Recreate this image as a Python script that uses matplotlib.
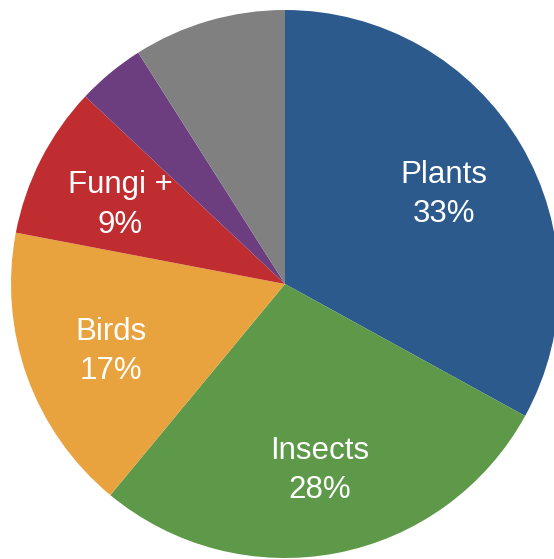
import numpy as np
import matplotlib
matplotlib.use("Agg")
import matplotlib.pyplot as plt

# Datos del gráfico
categorias = ["Plants", "Insects", "Birds", "Fungi +", "", ""]
valores = [33, 28, 17, 9, 4, 9]
colores = ["#2D5A8C", "#5E994A", "#E8A33E", "#BF2D30", "#6C3E80", "#7F807F"]

fig = plt.figure(figsize=(5.54, 5.59), dpi=100)
ax = fig.add_axes([0, 0, 1, 1])

wedges, _ = ax.pie(valores, colors=colores, startangle=90, counterclock=False,
                   radius=1, center=(0, 0), wedgeprops=dict(linewidth=0))

# Etiquetas dentro de cada sector
for w, nombre, v in zip(wedges, categorias, valores):
    if not nombre:
        continue
    ang = np.deg2rad((w.theta1 + w.theta2) / 2)
    r = 0.675
    ax.text(r * np.cos(ang), r * np.sin(ang) - 0.018, f"{nombre}\n{v}%",
            ha="center", va="center", color="white", fontsize=22.5,
            family="Liberation Sans", linespacing=1.4)

# Escala: 274 px por unidad, centro en (285, 284)
ax.set_xlim(-285 / 274, (554 - 285) / 274)
ax.set_ylim(-(559 - 284) / 274, 284 / 274)
ax.set_aspect("auto")
ax.axis("off")

fig.savefig("out.png", dpi=100)
